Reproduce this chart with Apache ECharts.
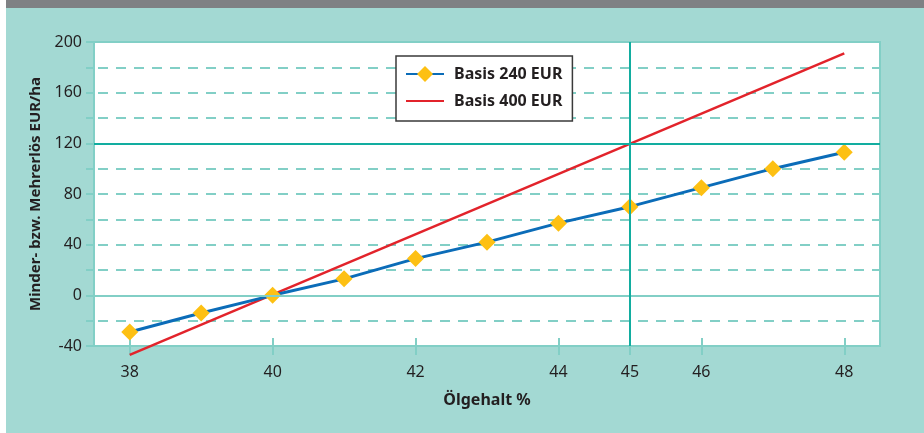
<!DOCTYPE html>
<html>
<head>
<meta charset="utf-8">
<script src="https://cdn.jsdelivr.net/npm/echarts@6/dist/echarts.min.js"></script>
<style>
html,body{margin:0;padding:0;background:#fff;}
#c{width:924px;height:433px;}
</style>
</head>
<body>
<div id="c"></div>
<script>
// Data
const xBlue = [38, 39, 40, 41, 42, 43, 44, 45, 46, 47, 48];
const basis240 = [-29, -14, 0, 13, 29, 42, 57, 70, 85, 100, 113];
const xRed = [38, 48];
const basis400 = [-47, 191];
const xTickLabels = [38, 40, 42, 44, 45, 46, 48];
const yTickLabels = [-40, 0, 40, 80, 120, 160, 200];
const seriesNames = ['Basis 240 EUR', 'Basis 400 EUR'];
const xName = 'Ölgehalt %';
const yName = 'Minder- bzw. Mehrerlös EUR/ha';

const light = '#82cfc6';
const dark = '#12ada0';
const txt = '#231f20';
const font = 'Noto Sans';

const chart = echarts.init(document.getElementById('c'), null, {renderer: 'canvas'});
chart.setOption({
  backgroundColor: '#a3d9d3',
  animation: false,
  graphic: [
    {type: 'rect', shape: {x: 0, y: 0, width: 6, height: 433}, style: {fill: '#ffffff'}, z: 100},
    {type: 'rect', shape: {x: 6, y: 0, width: 918, height: 8}, style: {fill: '#7f8184'}, z: 100}
  ],
  grid: {
    left: 94, right: 44, top: 42, bottom: 87,
    show: true, backgroundColor: '#ffffff', borderColor: light, borderWidth: 2
  },
  legend: {
    data: [
      {name: seriesNames[0]},
      {name: seriesNames[1], itemStyle: {color: 'rgba(0,0,0,0)', borderWidth: 0, opacity: 0}}
    ],
    orient: 'vertical',
    left: 396, top: 56,
    width: 177,
    backgroundColor: '#ffffff',
    borderColor: '#3a3a3a',
    borderWidth: 1.5,
    borderRadius: 0,
    padding: [10, 10, 12, 9],
    itemWidth: 38,
    itemHeight: 20,
    itemGap: 11,
    textStyle: {fontFamily: font, fontWeight: 'bold', fontSize: 16, color: txt, padding: [0, 0, 0, 5]}
  },
  xAxis: [{
    type: 'value', min: 37.5, max: 48.5,
    name: xName, nameLocation: 'middle', nameGap: 46,
    nameTextStyle: {fontFamily: font, fontWeight: 'bold', fontSize: 16, color: txt},
    axisLine: {show: true, onZero: false, lineStyle: {color: light, width: 2}},
    axisTick: {show: true, length: 9, customValues: xTickLabels, lineStyle: {color: light, width: 2}},
    axisLabel: {customValues: xTickLabels, margin: 18, fontFamily: font, fontSize: 16, color: txt},
    splitLine: {show: false}
  }, {
    type: 'value', min: 37.5, max: 48.5, position: 'bottom',
    axisLine: {show: false, onZero: false},
    axisTick: {show: true, inside: true, length: 8, customValues: xTickLabels, lineStyle: {color: light, width: 2}},
    axisLabel: {show: false},
    splitLine: {show: false}
  }],
  yAxis: {
    type: 'value', min: -40, max: 200, interval: 20,
    name: yName, nameLocation: 'middle', nameGap: 40, nameRotate: 90,
    nameTextStyle: {fontFamily: font, fontWeight: 'bold', fontSize: 15, color: txt},
    axisLine: {show: true, lineStyle: {color: light, width: 2}},
    axisTick: {show: true, length: 8, lineStyle: {color: light, width: 2}},
    axisLabel: {customValues: yTickLabels, margin: 12, fontFamily: font, fontSize: 16, color: txt},
    splitLine: {show: true, lineStyle: {color: light, width: 2, type: [10, 8], dashOffset: -4}}
  },
  series: [
    {
      name: 'refLines', type: 'line', data: [], z: 1, silent: true,
      markLine: {
        silent: true, symbol: 'none', animation: false,
        label: {show: false},
        data: [
          {yAxis: 0, lineStyle: {color: light, width: 2, type: 'solid'}},
          {yAxis: 120, lineStyle: {color: dark, width: 2, type: 'solid'}},
          {xAxis: 45, lineStyle: {color: dark, width: 2, type: 'solid'}}
        ]
      }
    },
    {
      name: seriesNames[0], type: 'line', z: 4,
      data: xBlue.map((x, i) => [x, basis240[i]]),
      symbol: 'diamond', symbolSize: [17, 17],
      itemStyle: {color: '#fdc013'},
      lineStyle: {color: '#0b6cb8', width: 3},
      clip: false
    },
    {
      name: seriesNames[1], type: 'line', z: 3,
      data: xRed.map((x, i) => [x, basis400[i]]),
      symbol: 'none',
      itemStyle: {color: '#e2232b'},
      lineStyle: {color: '#e2232b', width: 2.5},
      clip: false
    }
  ]
});
</script>
</body>
</html>
